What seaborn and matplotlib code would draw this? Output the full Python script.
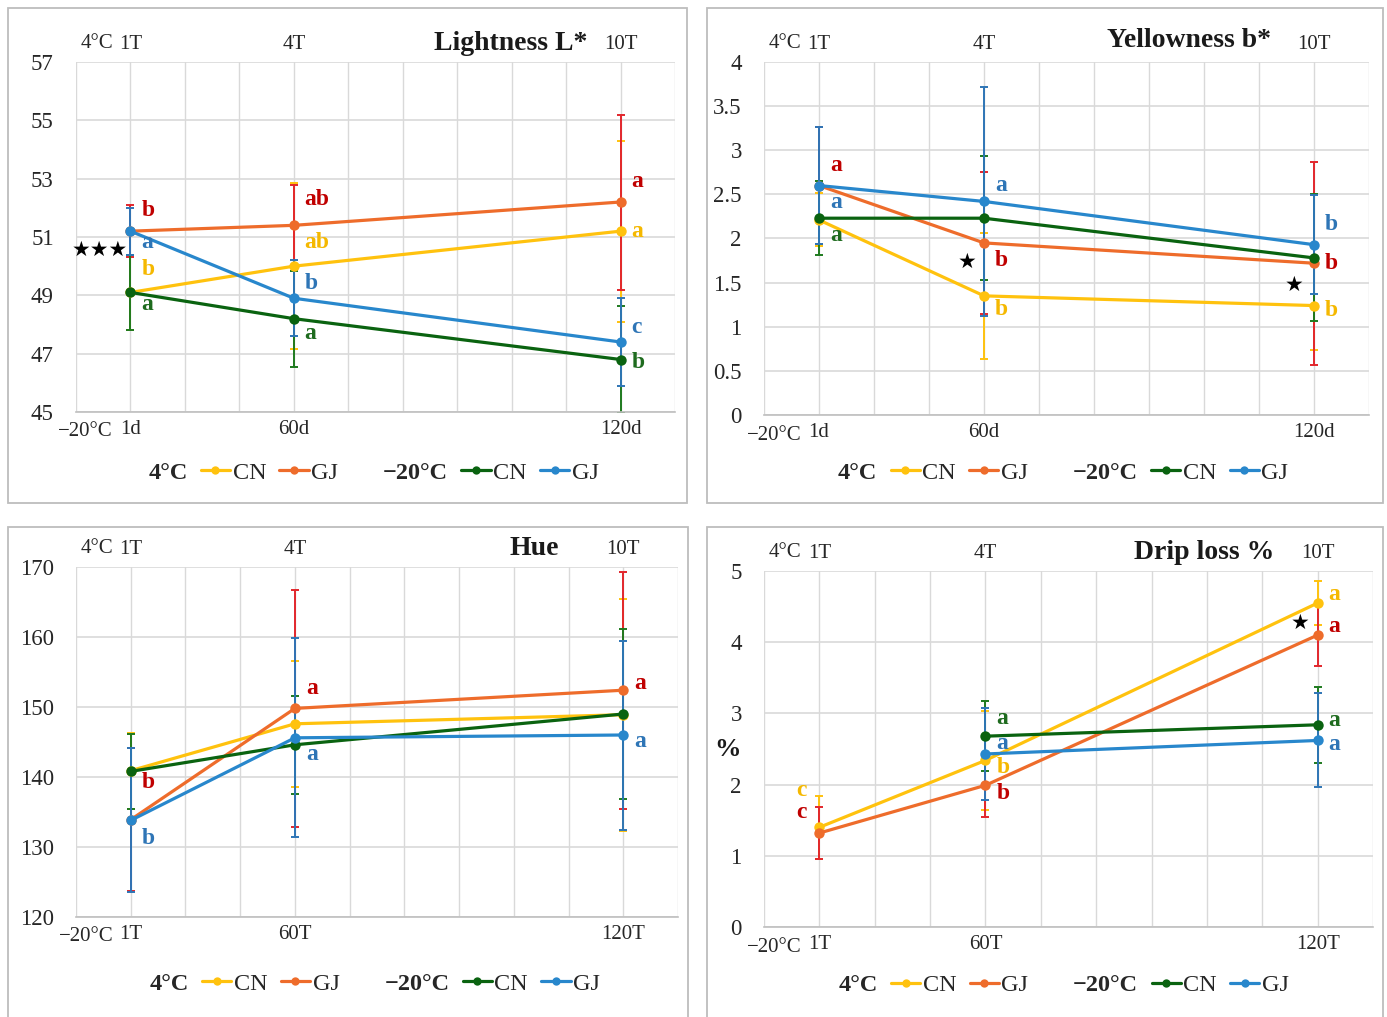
import numpy as np
import pandas as pd
import matplotlib
matplotlib.use("Agg")
import matplotlib.pyplot as plt
from matplotlib.lines import Line2D
from matplotlib.patches import Rectangle
from matplotlib import transforms
import seaborn as sns

# ---------------- data ----------------
series_names = ["4°C CN", "4°C GJ", "−20°C CN", "−20°C GJ"]
x_pos = [1, 4, 10]

# Lightness L*
L_mean = {"4°C CN": [49.1, 50.0, 51.2], "4°C GJ": [51.2, 51.4, 52.2],
          "−20°C CN": [49.1, 48.2, 46.8], "−20°C GJ": [51.2, 48.9, 47.4]}
L_sd = {"4°C CN": [1.3, 2.85, 3.1], "4°C GJ": [0.9, 1.4, 3.0],
        "−20°C CN": [1.3, 1.65, 1.85], "−20°C GJ": [0.8, 1.3, 1.5]}

# Yellowness b*
B_mean = {"4°C CN": [2.21, 1.35, 1.24], "4°C GJ": [2.6, 1.95, 1.72],
          "−20°C CN": [2.23, 2.23, 1.78], "−20°C GJ": [2.6, 2.42, 1.93]}
B_sd = {"4°C CN": [0.3, 0.71, 0.5], "4°C GJ": [0.66, 0.8, 1.15],
        "−20°C CN": [0.42, 0.7, 0.72], "−20°C GJ": [0.66, 1.3, 0.56]}

# Hue
H_mean = {"4°C CN": [140.9, 147.6, 148.9], "4°C GJ": [133.9, 149.8, 152.4],
          "−20°C CN": [140.8, 144.6, 149.0], "−20°C GJ": [133.8, 145.6, 146.0]}
H_sd = {"4°C CN": [5.4, 9.0, 16.6], "4°C GJ": [10.2, 16.9, 16.9],
        "−20°C CN": [5.4, 7.0, 12.2], "−20°C GJ": [10.3, 14.2, 13.5]}

# Drip loss %
D_mean = {"4°C CN": [1.40, 2.34, 4.55], "4°C GJ": [1.32, 1.99, 4.10],
          "−20°C CN": [np.nan, 2.68, 2.84], "−20°C GJ": [np.nan, 2.43, 2.62]}
D_sd = {"4°C CN": [0.44, 0.7, 0.31], "4°C GJ": [0.37, 0.44, 0.43],
        "−20°C CN": [np.nan, 0.49, 0.53], "−20°C GJ": [np.nan, 0.64, 0.66]}

top_labels = ["1T", "4T", "10T"]
bottom_labels_d = ["1d", "60d", "120d"]
bottom_labels_t = ["1T", "60T", "120T"]

# letters: (x, y, text, series)
L_letters = [(1, 51.9, "b", "4°C GJ"), (1, 50.8, "a", "−20°C GJ"), (1, 49.9, "b", "4°C CN"), (1, 48.7, "a", "−20°C CN"),
             (4, 52.3, "ab", "4°C GJ"), (4, 50.8, "ab", "4°C CN"), (4, 49.4, "b", "−20°C GJ"), (4, 47.7, "a", "−20°C CN"),
             (10, 52.9, "a", "4°C GJ"), (10, 51.2, "a", "4°C CN"), (10, 47.9, "c", "−20°C GJ"), (10, 46.7, "b", "−20°C CN")]
B_letters = [(1, 2.83, "a", "4°C GJ"), (1, 2.41, "a", "−20°C GJ"), (1, 2.03, "a", "−20°C CN"),
             (4, 2.60, "a", "−20°C GJ"), (4, 1.75, "b", "4°C GJ"), (4, 1.19, "b", "4°C CN"),
             (10, 2.16, "b", "−20°C GJ"), (10, 1.72, "b", "4°C GJ"), (10, 1.18, "b", "4°C CN")]
H_letters = [(1, 139.2, "b", "4°C GJ"), (1, 131.2, "b", "−20°C GJ"),
             (4, 152.7, "a", "4°C GJ"), (4, 143.2, "a", "−20°C GJ"),
             (10, 153.4, "a", "4°C GJ"), (10, 145.1, "a", "−20°C GJ")]
D_letters = [(0.67, 1.92, "c", "4°C CN"), (0.67, 1.61, "c", "4°C GJ"),
             (4, 2.93, "a", "−20°C CN"), (4, 2.58, "a", "−20°C GJ"), (4, 2.24, "b", "4°C CN"), (4, 1.88, "b", "4°C GJ"),
             (10, 4.67, "a", "4°C CN"), (10, 4.22, "a", "4°C GJ"), (10, 2.90, "a", "−20°C CN"), (10, 2.56, "a", "−20°C GJ")]

# stars: (x, y, text)
L_stars = [(0.44, 50.55, "★★★")]
B_stars = [(3.69, 1.73, "★"), (9.64, 1.47, "★")]
H_stars = []
D_stars = [(9.68, 4.27, "★")]

# ---------------- styles ----------------
line_col = {"4°C CN": "#FFC20E", "4°C GJ": "#EE6C2B", "−20°C CN": "#0A6310", "−20°C GJ": "#2887CC"}
err_col = {"4°C CN": "#FFC20E", "4°C GJ": "#E2262C", "−20°C CN": "#1E7A1E", "−20°C GJ": "#2E75B6"}
let_col = {"4°C CN": "#F5B800", "4°C GJ": "#C00000", "−20°C CN": "#1E6B1E", "−20°C GJ": "#2E75B6"}

sns.set_theme(style="white")
plt.rcParams["font.family"] = ["Liberation Serif", "DejaVu Serif"]

W, H = 1387, 1017
fig = plt.figure(figsize=(W / 100, H / 100), dpi=100)


def px_axes(left, top, right, bottom):
    return fig.add_axes([left / W, 1 - bottom / H, (right - left) / W, (bottom - top) / H])


panels = [
    dict(rect=(76, 62, 675, 412), mean=L_mean, sd=L_sd, ylim=(45, 57), yticks=np.arange(45, 58, 2),
         yfmt="{:.0f}", title="Lightness L*", title_xy=(0.726, 1.052), bottom=bottom_labels_d,
         letters=L_letters, stars=L_stars, leg=(0.47, -0.174), ylabel=None, dx_let=0.2),
    dict(rect=(764, 62, 1369, 415), mean=B_mean, sd=B_sd, ylim=(0, 4), yticks=np.arange(0, 4.01, 0.5),
         yfmt="{:g}", title="Yellowness b*", title_xy=(0.702, 1.062), bottom=bottom_labels_d,
         letters=B_letters, stars=B_stars, leg=(0.468, -0.164), ylabel=None, dx_let=0.2),
    dict(rect=(76, 567, 678, 917), mean=H_mean, sd=H_sd, ylim=(120, 170), yticks=np.arange(120, 171, 10),
         yfmt="{:.0f}", title="Hue", title_xy=(0.761, 1.052), bottom=bottom_labels_t,
         letters=H_letters, stars=H_stars, leg=(0.47, -0.19), ylabel=None, dx_let=0.2),
    dict(rect=(764, 571, 1373, 927), mean=D_mean, sd=D_sd, ylim=(0, 5), yticks=np.arange(0, 6, 1),
         yfmt="{:.0f}", title="Drip loss %", title_xy=(0.722, 1.053), bottom=bottom_labels_t,
         letters=D_letters, stars=D_stars, leg=(0.466, -0.164), ylabel="%", dx_let=0.2),
]

for p in panels:
    ax = px_axes(*p["rect"])
    rows = []
    for s in series_names:
        for xi, m in zip(x_pos, p["mean"][s]):
            rows.append({"x": xi, "value": m, "series": s})
    df = pd.DataFrame(rows)

    for s in series_names:
        ax.errorbar(x_pos, p["mean"][s], yerr=p["sd"][s], fmt="none", ecolor=err_col[s],
                    elinewidth=1.4, capsize=3, capthick=1.4, zorder=2)
    sns.lineplot(data=df, x="x", y="value", hue="series", hue_order=series_names,
                 palette=line_col, marker="o", markersize=7.5, markeredgewidth=0,
                 linewidth=2.3, legend=False, ax=ax, errorbar=None, sort=False, zorder=3)

    ax.set_xlim(0, 11)
    ax.set_ylim(*p["ylim"])
    ax.set_xticks(range(12), minor=True)
    ax.set_xticks(x_pos)
    ax.set_xticklabels(p["bottom"], fontsize=15, color="#262626")
    ax.set_yticks(p["yticks"])
    ax.set_yticklabels([p["yfmt"].format(v) for v in p["yticks"]], fontsize=16.5, color="#262626")
    ax.grid(True, which="both", axis="x", color="#D9D9D9", lw=1)
    ax.grid(True, which="major", axis="y", color="#D9D9D9", lw=1.2)
    ax.tick_params(axis="both", which="both", length=0)
    ax.tick_params(axis="x", pad=6)
    ax.tick_params(axis="y", pad=16)
    ax.set_xlabel("")
    ax.set_ylabel("")
    for sp in ["top", "right", "left"]:
        ax.spines[sp].set_visible(False)
    ax.spines["bottom"].set_color("#BFBFBF")
    ax.spines["bottom"].set_linewidth(1.2)

    sec = ax.secondary_xaxis("top")
    sec.set_xticks(x_pos)
    sec.set_xticklabels(top_labels, fontsize=15, color="#262626")
    sec.tick_params(length=0, pad=6)
    sec.spines["top"].set_visible(False)

    tr = transforms.blended_transform_factory(ax.transData, ax.transAxes)
    ax.text(0.68, 1.052, "4°C", transform=tr, ha="right", va="center", fontsize=15, color="#262626")
    ax.text(0.68, -0.057, "−20°C", transform=tr, ha="right", va="center", fontsize=15, color="#262626")

    ax.text(p["title_xy"][0], p["title_xy"][1], p["title"], transform=ax.transAxes,
            ha="center", va="center", fontsize=20, fontweight="bold", color="#1a1a1a")

    for (xl, yl, t, s) in p["letters"]:
        if xl < 1:
            ax.text(xl, yl, t, ha="center", va="center", fontsize=17, fontweight="bold",
                    color=let_col[s], zorder=5)
        else:
            ax.text(xl + p["dx_let"], yl, t, ha="left", va="center", fontsize=17, fontweight="bold",
                    color=let_col[s], zorder=5)
    for (xs, ys, t) in p["stars"]:
        ax.text(xs, ys, t, ha="center", va="center", fontsize=15, color="black",
                family=["DejaVu Sans"], zorder=5)

    if p["ylabel"]:
        ax.text(-0.06, 0.5, p["ylabel"], transform=ax.transAxes, ha="center", va="center",
                fontsize=19, fontweight="bold", color="#1a1a1a")

    handles = [Line2D([], [], linestyle="none")]
    labels = ["4°C"]
    for s in series_names[:2]:
        handles.append(Line2D([], [], color=line_col[s], marker="o", lw=2.3, ms=6, mew=0))
        labels.append(s.split()[-1])
    handles.append(Line2D([], [], linestyle="none"))
    labels.append("−20°C")
    for s in series_names[2:]:
        handles.append(Line2D([], [], color=line_col[s], marker="o", lw=2.3, ms=6, mew=0))
        labels.append(s.split()[-1])
    leg = ax.legend(handles, labels, loc="center", bbox_to_anchor=p["leg"], ncol=6, frameon=False,
                    fontsize=17.5, handlelength=1.2, handletextpad=0.1, columnspacing=0.55,
                    borderaxespad=0)
    for i, t in enumerate(leg.get_texts()):
        t.set_color("#262626")
        if i in (0, 3):
            t.set_fontweight("bold")

# panel frames
for (l, t, r, b) in [(8, 8, 687, 503), (707, 8, 1383, 503), (8, 527, 688, 1030), (707, 527, 1383, 1030)]:
    fig.add_artist(Rectangle((l / W, 1 - b / H), (r - l) / W, (b - t) / H, transform=fig.transFigure,
                             fill=False, edgecolor="#BDBDBD", lw=1.3))

fig.savefig("out.png", dpi=100, facecolor="white")
